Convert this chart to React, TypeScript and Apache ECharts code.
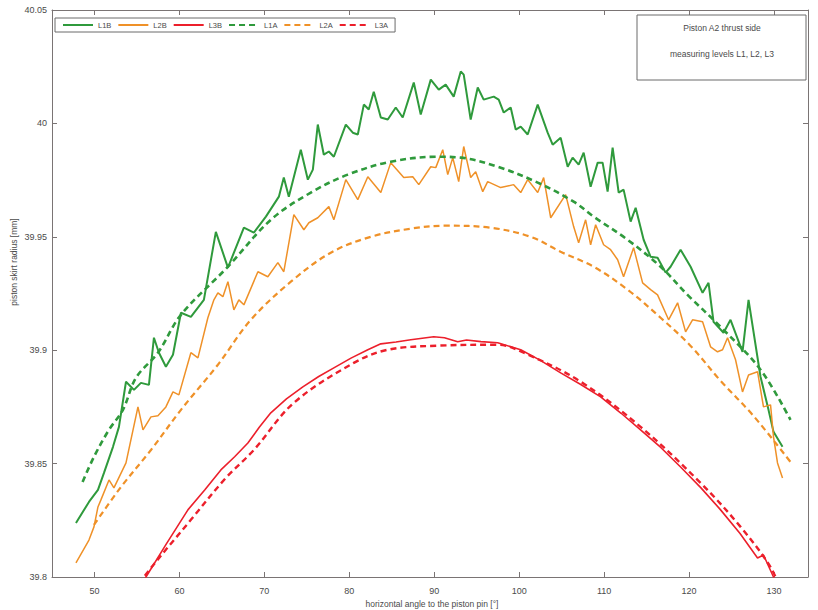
import React, { useEffect, useRef } from "react";
import * as echarts from "echarts";

// ---- data ----
const X_TICKS = [50, 60, 70, 80, 90, 100, 110, 120, 130];
const Y_TICKS_INFO = { min: 39.8, max: 40.05, step: 0.05 };

const L1B: [number, number][] = [
  [47.82, 39.8238], [49.35, 39.8331], [50.41, 39.8384], [51.12, 39.8459], [52.18, 39.8574],
  [52.88, 39.8662], [53.71, 39.8861], [54.65, 39.8825], [55.47, 39.8856], [56.41, 39.8847],
  [57.0, 39.9055], [57.59, 39.8989], [58.41, 39.8927], [59.24, 39.898], [60.18, 39.9165],
  [61.35, 39.9147], [62.88, 39.9222], [64.29, 39.9522], [65.71, 39.9364], [67.59, 39.954],
  [68.76, 39.9518], [70.18, 39.9589], [71.71, 39.9677], [72.29, 39.9761], [72.88, 39.9677],
  [74.29, 39.9884], [75.12, 39.9752], [75.71, 39.9796], [76.29, 39.9995], [77.0, 39.9862],
  [77.59, 39.9876], [78.18, 39.9853], [79.59, 39.9995], [80.41, 39.9959], [81.0, 39.9951],
  [81.71, 40.0083], [82.29, 40.0061], [82.88, 40.014], [83.71, 40.0026], [84.53, 40.0017],
  [85.47, 40.007], [86.29, 40.0026], [87.59, 40.018], [88.41, 40.0039], [89.59, 40.0193],
  [90.53, 40.0149], [91.35, 40.0171], [92.29, 40.0118], [93.12, 40.0229], [93.47, 40.0215],
  [94.29, 40.0017], [95.12, 40.0158], [95.82, 40.0105], [97.0, 40.0118], [97.59, 40.0105],
  [98.18, 40.0048], [99.0, 40.007], [99.59, 39.9973], [100.18, 39.9986], [101.0, 39.9951],
  [102.18, 40.0083], [103.35, 39.9959], [103.94, 39.9906], [104.88, 39.9937], [105.71, 39.9809],
  [106.29, 39.9849], [107.0, 39.9818], [107.59, 39.9871], [108.41, 39.9721], [109.24, 39.9827],
  [109.82, 39.9827], [110.41, 39.9699], [111.0, 39.9893], [111.71, 39.9695], [112.29, 39.9708],
  [113.12, 39.9567], [113.71, 39.9628], [114.65, 39.9487], [115.47, 39.9412], [116.29, 39.9408],
  [117.24, 39.9342], [117.82, 39.9368], [119.0, 39.9443], [120.18, 39.9368], [121.59, 39.9253],
  [122.29, 39.9297], [122.88, 39.9125], [124.06, 39.9077], [124.88, 39.9134], [126.29, 39.8993],
  [127.0, 39.9222], [128.41, 39.8883], [129.35, 39.8737], [129.94, 39.864], [131.0, 39.8574],
];

const L2B: [number, number][] = [
  [47.82, 39.8062], [49.35, 39.8163], [49.94, 39.8221], [50.41, 39.8309], [50.76, 39.834],
  [51.71, 39.8428], [52.29, 39.8393], [53.71, 39.8503], [55.12, 39.875], [55.71, 39.8649],
  [56.65, 39.8706], [57.47, 39.8711], [58.41, 39.875], [59.24, 39.8816], [59.94, 39.8803],
  [61.35, 39.8989], [62.18, 39.8966], [63.35, 39.9143], [64.06, 39.9222], [64.53, 39.9253],
  [65.12, 39.9236], [65.71, 39.9302], [66.41, 39.9178], [67.0, 39.9222], [67.59, 39.92],
  [69.24, 39.9346], [70.41, 39.9324], [71.59, 39.9386], [72.29, 39.9346], [73.47, 39.9598],
  [74.65, 39.9531], [75.24, 39.9562], [76.29, 39.9584], [77.59, 39.9633], [78.18, 39.9575],
  [79.59, 39.9752], [81.0, 39.9664], [82.18, 39.9765], [83.71, 39.9695], [84.88, 39.9827],
  [86.41, 39.9761], [87.47, 39.9765], [88.18, 39.973], [89.59, 39.9809], [90.18, 39.9805],
  [91.0, 39.9884], [91.59, 39.9774], [92.18, 39.9849], [92.88, 39.9743], [93.47, 39.9898],
  [94.29, 39.9761], [94.88, 39.9787], [95.71, 39.9699], [96.29, 39.9743], [97.82, 39.9717],
  [99.35, 39.973], [100.18, 39.9695], [101.0, 39.9752], [102.18, 39.9695], [102.88, 39.9761],
  [103.71, 39.9584], [105.47, 39.9686], [106.41, 39.9545], [107.0, 39.9474], [107.82, 39.9575],
  [108.41, 39.9465], [109.0, 39.9553], [109.94, 39.9465], [110.76, 39.9443], [111.59, 39.9399],
  [112.29, 39.9324], [113.47, 39.9452], [114.53, 39.9297], [115.47, 39.9267], [116.29, 39.9244],
  [117.59, 39.9134], [118.65, 39.9209], [119.59, 39.9081], [120.41, 39.9134], [121.59, 39.9125],
  [122.53, 39.9015], [123.35, 39.8993], [123.94, 39.9002], [124.53, 39.9055], [125.47, 39.8958],
  [126.29, 39.8816], [127.0, 39.8891], [128.06, 39.8905], [128.76, 39.875], [129.59, 39.8759],
  [129.94, 39.8618], [130.41, 39.8503], [131.0, 39.8437],
];

const L3B: [number, number][] = [
  [55.5, 39.7965], [56.06, 39.8], [58.5, 39.8148], [61.0, 39.8296], [63.0, 39.8385],
  [64.88, 39.8472], [66.5, 39.8530], [68.06, 39.8591], [69.4, 39.8660], [70.76, 39.8724],
  [72.6, 39.8785], [74.53, 39.8838], [76.4, 39.8884], [78.18, 39.8922], [80.2, 39.8965],
  [82.18, 39.9002], [83.71, 39.9028], [85.5, 39.9036], [87.24, 39.9046], [89.94, 39.9059],
  [91.2, 39.9055], [92.76, 39.9037], [93.8, 39.9045], [95.5, 39.9038], [97.47, 39.9033],
  [100.18, 39.9002], [102.5, 39.8955], [104.88, 39.89], [107.2, 39.8850], [109.59, 39.8794],
  [112.0, 39.8722], [114.29, 39.8649], [116.7, 39.8570], [119.0, 39.8485], [121.4, 39.8393],
  [123.71, 39.8296], [126.0, 39.8192], [128.06, 39.8084], [128.76, 39.8097], [129.94, 39.8],
  [130.53, 39.7943],
];

const L1A: [number, number][] = [
  [48.6, 39.8419], [49.94, 39.853], [51.71, 39.8649], [53.35, 39.8737], [54.88, 39.8878],
  [57.47, 39.8989], [60.18, 39.9156], [65.71, 39.9368], [70.76, 39.9575], [75.47, 39.9695],
  [79.82, 39.9774], [84.88, 39.9831], [90.41, 39.9853], [93.12, 39.9849], [97.47, 39.9809],
  [102.18, 39.9739], [106.41, 39.9655], [108.76, 39.9589], [112.76, 39.9487], [116.65, 39.9368],
  [119.82, 39.9244], [123.71, 39.9103], [128.41, 39.8914], [131.94, 39.8693],
];

const L2A: [number, number][] = [
  [49.94, 39.823], [53.12, 39.8397], [56.65, 39.856], [60.18, 39.8737], [64.53, 39.8936],
  [68.41, 39.9134], [73.12, 39.9302], [77.82, 39.943], [82.53, 39.95], [87.24, 39.9536],
  [91.35, 39.9549], [96.65, 39.954], [101.35, 39.95], [104.88, 39.9434], [108.76, 39.9368],
  [112.76, 39.9267], [116.65, 39.9143], [120.18, 39.9019], [123.71, 39.8865], [127.59, 39.871],
  [131.94, 39.8507],
];

const L3A: [number, number][] = [
  [55.47, 39.7965], [55.82, 39.8], [61.35, 39.8252], [65.47, 39.8437], [68.76, 39.856],
  [73.47, 39.8768], [80.53, 39.8944], [84.53, 39.9002], [90.41, 39.902], [97.47, 39.9024],
  [100.53, 39.8989], [107.24, 39.8861], [114.29, 39.8662], [121.35, 39.8415], [126.06, 39.8221],
  [129.59, 39.8044], [130.76, 39.7943],
];

const GREEN = "#2f9a3c";
const ORANGE = "#ef9128";
const RED = "#ec1f2b";
const AXIS = "#7a7474";
const TXT = "#4a4a4a";
const FONT = "Liberation Sans, Arial, sans-serif";

export default function App() {
  const ref = useRef<HTMLDivElement>(null);
  useEffect(() => {
    if (!ref.current) return;
    const chart = echarts.init(ref.current, undefined, { renderer: "svg" });
    const dash = [6, 4];
    const mk = (name: string, data: [number, number][], color: string, width: number, dashed: boolean, smooth: boolean) => ({
      name,
      type: "line",
      data,
      showSymbol: false,
      symbol: "none",
      smooth: smooth ? 0.35 : false,
      clip: true,
      lineStyle: { color, width, type: dashed ? dash : "solid" },
      itemStyle: { color },
      z: dashed ? 3 : 2,
    });
    const xCommon = {
      type: "value",
      min: 45,
      max: 134,
      splitLine: { show: false },
      axisLine: { show: true, onZero: false, lineStyle: { color: AXIS, width: 1 } },
      axisTick: { show: true, inside: true, length: 5, customValues: X_TICKS, lineStyle: { color: AXIS } },
    };
    const yCommon = {
      type: "value",
      min: Y_TICKS_INFO.min,
      max: Y_TICKS_INFO.max,
      interval: Y_TICKS_INFO.step,
      splitLine: { show: false },
      axisLine: { show: true, onZero: false, lineStyle: { color: AXIS, width: 1 } },
      axisTick: { show: true, inside: true, length: 5, lineStyle: { color: AXIS } },
    };
    chart.setOption({
      animation: false,
      backgroundColor: "#ffffff",
      textStyle: { fontFamily: FONT },
      grid: { left: 52, top: 10, right: 10, bottom: 33, containLabel: false },
      legend: {
        left: 55,
        top: 18,
        orient: "horizontal",
        itemWidth: 30,
        itemHeight: 10,
        itemGap: 6,
        padding: [3, 7],
        borderColor: "#6a6a6a",
        borderWidth: 1,
        backgroundColor: "#ffffff",
        itemStyle: { color: "rgba(0,0,0,0)", borderWidth: 0, opacity: 0 },
        textStyle: { fontSize: 7.5, color: TXT, fontFamily: FONT },
        data: ["L1B", "L2B", "L3B", "L1A", "L2A", "L3A"],
      },
      xAxis: [
        {
          ...xCommon,
          position: "bottom",
          axisLabel: { show: true, customValues: X_TICKS, fontSize: 9, color: TXT, margin: 9, fontFamily: FONT },
        },
        {
          ...xCommon,
          position: "top",
          axisLabel: { show: false },
        },
      ],
      yAxis: [
        {
          ...yCommon,
          position: "left",
          axisLabel: { show: true, fontSize: 9, color: TXT, margin: 5, fontFamily: FONT },
        },
        {
          ...yCommon,
          position: "right",
          axisLabel: { show: false },
        },
      ],
      series: [
        mk("L1B", L1B, GREEN, 2, false, false),
        mk("L2B", L2B, ORANGE, 1.5, false, false),
        mk("L3B", L3B, RED, 1.6, false, false),
        mk("L1A", L1A, GREEN, 2.6, true, true),
        mk("L2A", L2A, ORANGE, 2.2, true, true),
        mk("L3A", L3A, RED, 2.4, true, true),
      ],
      graphic: [
        {
          type: "rect",
          shape: { x: 637, y: 15, width: 169, height: 65 },
          style: { fill: "#ffffff", stroke: "#6a6a6a", lineWidth: 1 },
          z: 10,
        },
        {
          type: "text",
          x: 722,
          y: 28,
          z: 11,
          style: { text: "Piston A2 thrust side", fontSize: 8.5, fill: TXT, textAlign: "center", textVerticalAlign: "middle", fontFamily: FONT },
        },
        {
          type: "text",
          x: 722,
          y: 54,
          z: 11,
          style: { text: "measuring levels L1, L2, L3", fontSize: 8.5, fill: TXT, textAlign: "center", textVerticalAlign: "middle", fontFamily: FONT },
        },
        {
          type: "text",
          x: 432,
          y: 604,
          style: { text: "horizontal angle to the piston pin [°]", fontSize: 8.5, fill: TXT, textAlign: "center", textVerticalAlign: "middle", fontFamily: FONT },
        },
        {
          type: "text",
          x: 14,
          y: 262,
          rotation: Math.PI / 2,
          style: { text: "piston skirt radius [mm]", fontSize: 8.5, fill: TXT, textAlign: "center", textVerticalAlign: "middle", fontFamily: FONT },
        },
      ],
    });
    return () => chart.dispose();
  }, []);
  return <div ref={ref} style={{ width: 818, height: 610, position: "absolute", left: 0, top: 0 }} />;
}
